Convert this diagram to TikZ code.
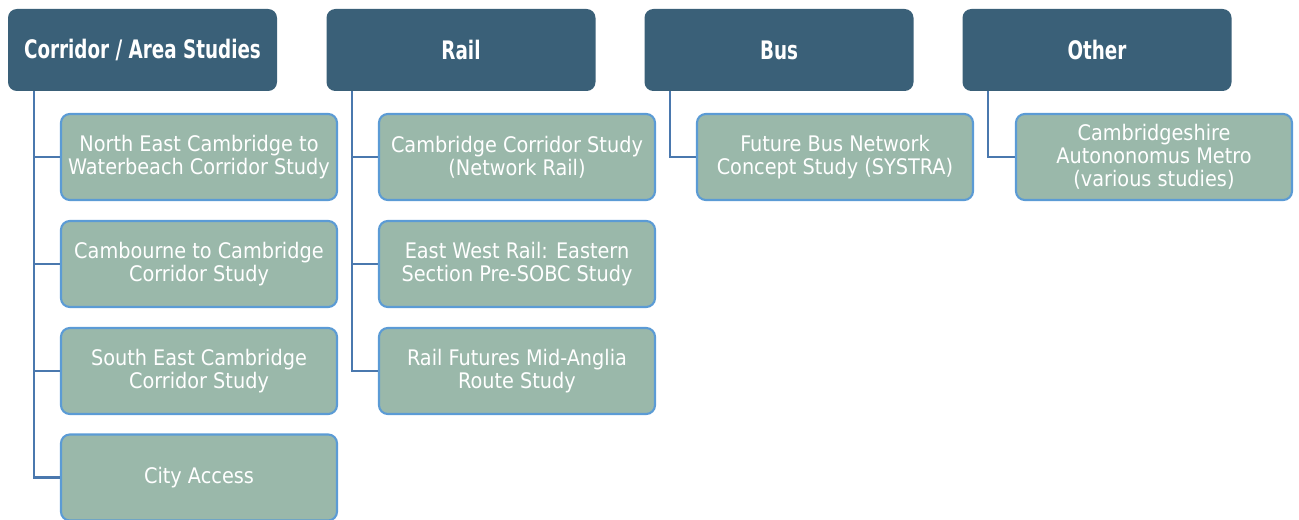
\documentclass[tikz,border=0pt]{standalone}
\usepackage{fontspec}
\setmainfont{DejaVu Sans Condensed}
\usetikzlibrary{positioning}

\definecolor{headfill}{HTML}{3A6078}
\definecolor{itemfill}{HTML}{9AB8AA}
\definecolor{itemline}{HTML}{5B9BD5}
\definecolor{linkcol}{HTML}{4A78AE}

% heads are set narrow and heavy
\newcommand{\headtext}[1]{\scalebox{0.8}[1]{#1}}

\tikzset{
  head/.style={rectangle, rounded corners=5pt, fill=headfill, draw=none, inner sep=0pt,
    minimum width=269*0.02cm, minimum height=82*0.02cm, text=white,
    font=\fontsize{14.5}{16}\selectfont\bfseries},
  item/.style={rectangle, rounded corners=5pt, fill=itemfill, draw=itemline, line width=1.2pt,
    inner sep=0pt, minimum width=276*0.02cm, minimum height=86*0.02cm, text=white, align=center,
    font=\fontsize{12.2}{13.2}\selectfont},
  link/.style={draw=linkcol, line width=1.2pt}
}

\begin{document}
\begin{tikzpicture}[x=0.02cm, y=-0.02cm]
    \useasboundingbox (0,0) rectangle (1299,520);
    % column heads
    \node[head] (corr) at (142.5,50) {\headtext{Corridor / Area Studies}};
    \node[head] (rail) at (461,50) {\headtext{Rail}};
    \node[head] (bus) at (779,50) {\headtext{Bus}};
    \node[head] (other) at (1097,50) {\headtext{Other}};

    % corridor / area studies
    \node[item] (corr1) at (199,157) {North East Cambridge to\\Waterbeach Corridor Study};
    \node[item] (corr2) at (199,264) {Cambourne to Cambridge\\Corridor Study};
    \node[item] (corr3) at (199,371) {South East Cambridge\\Corridor Study};
    \node[item] (corr4) at (199,477.5) {City Access};

    % rail
    \node[item] (rail1) at (517,157) {Cambridge Corridor Study\\(Network Rail)};
    \node[item] (rail2) at (517,264) {East West Rail: Eastern\\Section Pre-SOBC Study};
    \node[item] (rail3) at (517,371) {Rail Futures Mid-Anglia\\Route Study};

    % bus and other
    \node[item] (bus1) at (835,157) {Future Bus Network\\Concept Study (SYSTRA)};
    \node[item] (other1) at (1154,157) {Cambridgeshire\\Autononomus Metro\\(various studies)};

    % connectors
    \foreach \h/\c in {corr/corr1, corr/corr2, corr/corr3, corr/corr4,
                       rail/rail1, rail/rail2, rail/rail3, bus/bus1, other/other1}
        \draw[link] ([xshift=0.52cm]\h.south west) |- (\c.west);
\end{tikzpicture}
\end{document}
